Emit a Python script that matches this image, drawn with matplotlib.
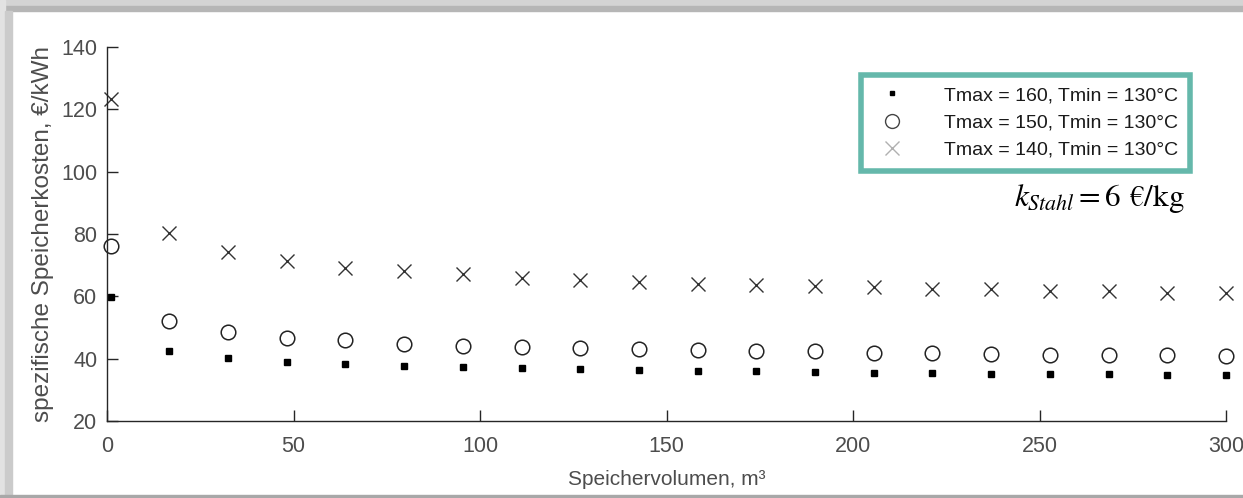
import matplotlib
matplotlib.use("Agg")
import matplotlib.pyplot as plt
from matplotlib.lines import Line2D
from matplotlib.patches import Rectangle

# Speichervolumen, m³
volumen = [1, 16.7, 32.5, 48.2, 63.9, 79.7, 95.4, 111.2, 126.9, 142.6,
           158.4, 174.1, 189.8, 205.6, 221.3, 237.1, 252.8, 268.5, 284.3, 300]

# spezifische Speicherkosten, €/kWh
kosten_160 = [59.8, 42.5, 40.2, 38.9, 38.3, 37.7, 37.2, 36.9, 36.6, 36.4,
              36.1, 35.9, 35.7, 35.4, 35.3, 35.2, 35.1, 35.0, 34.8, 34.7]
kosten_150 = [76.2, 52.1, 48.5, 46.6, 46.0, 44.8, 44.2, 43.7, 43.4, 43.0,
              42.8, 42.5, 42.3, 41.9, 41.7, 41.6, 41.3, 41.2, 41.1, 41.0]
kosten_140 = [123.3, 80.3, 74.2, 71.3, 69.2, 68.1, 67.1, 66.0, 65.2, 64.6,
              64.0, 63.6, 63.3, 62.9, 62.5, 62.3, 61.8, 61.6, 61.2, 61.0]

labels = ["Tmax = 160, Tmin = 130°C",
          "Tmax = 150, Tmin = 130°C",
          "Tmax = 140, Tmin = 130°C"]

plt.rcParams["font.family"] = ["Liberation Sans", "DejaVu Sans"]
plt.rcParams["mathtext.fontset"] = "stix"

fig = plt.figure(figsize=(12.43, 4.98), dpi=100)
W, H = 1243, 498

# screenshot frame
fig.patch.set_facecolor("white")
fig.add_artist(Rectangle((0, 1 - 6 / H), 1, 6 / H, transform=fig.transFigure,
                         color="#d4d4d4", zorder=0))
fig.add_artist(Rectangle((0, 1 - 11 / H), 1, 5 / H, transform=fig.transFigure,
                         color="#b6b6b6", zorder=0))
fig.add_artist(Rectangle((0, 0), 5 / W, 1, transform=fig.transFigure,
                         color="#e2e2e2", zorder=0))
fig.add_artist(Rectangle((5 / W, 0), 7 / W, 1 - 11 / H, transform=fig.transFigure,
                         color="#cbcbcb", zorder=0))
fig.add_artist(Rectangle((0, 0), 1, 3 / H, transform=fig.transFigure,
                         color="#a8a8a8", zorder=0))

ax = fig.add_axes([107 / W, 1 - 421 / H, (1226 - 107) / W, (421 - 47) / H])

ax.plot(volumen, kosten_160, ls="none", marker="s", ms=4, color="black",
        clip_on=False)
ax.plot(volumen, kosten_150, ls="none", marker="o", ms=10.5, mfc="none",
        mec="#222222", mew=1.1, clip_on=False)
ax.plot(volumen, kosten_140, ls="none", marker="x", ms=10, color="#333333",
        mew=1.0, clip_on=False)

ax.set_xlim(0, 300)
ax.set_ylim(20, 140)
ax.set_xticks(range(0, 301, 50))
ax.set_yticks(range(20, 141, 20))
for s in ["top", "right"]:
    ax.spines[s].set_visible(False)
for s in ["left", "bottom"]:
    ax.spines[s].set_color("#262626")
    ax.spines[s].set_linewidth(1.0)
ax.tick_params(direction="in", length=8, width=1.0, color="#262626",
               labelsize=15.5, labelcolor="#4d4d4d", pad=7)
ax.tick_params(axis="x", pad=11)
ax.set_xlabel("Speichervolumen, m³", fontsize=15, color="#4d4d4d", labelpad=9)
ax.set_ylabel("spezifische Speicherkosten, €/kWh", fontsize=17.5,
              color="#4d4d4d", labelpad=5)

handles = [
    Line2D([], [], ls="none", marker="s", ms=3.5, color="black"),
    Line2D([], [], ls="none", marker="o", ms=10, mfc="none", mec="#444444"),
    Line2D([], [], ls="none", marker="x", ms=10, color="#b0b0b0"),
]
leg = ax.legend(handles, labels, loc="upper right",
                bbox_to_anchor=((1190 - 107) / (1226 - 107), (421 - 75) / (421 - 47)),
                fontsize=14, frameon=True, fancybox=False, borderpad=0.6,
                labelspacing=0.5, handletextpad=1.7, handlelength=2.0,
                borderaxespad=0)
leg.get_frame().set_edgecolor("#3fa796")
leg.get_frame().set_linewidth(4)
for t in leg.get_texts():
    t.set_color("#1a1a1a")

fig.text(1185 / W, 1 - 198 / H, r"$k_{Stahl} = 6$ €/kg", ha="right",
         va="center", fontsize=22.5, family=["STIXGeneral", "DejaVu Serif"])

fig.savefig("out.png", dpi=100)
